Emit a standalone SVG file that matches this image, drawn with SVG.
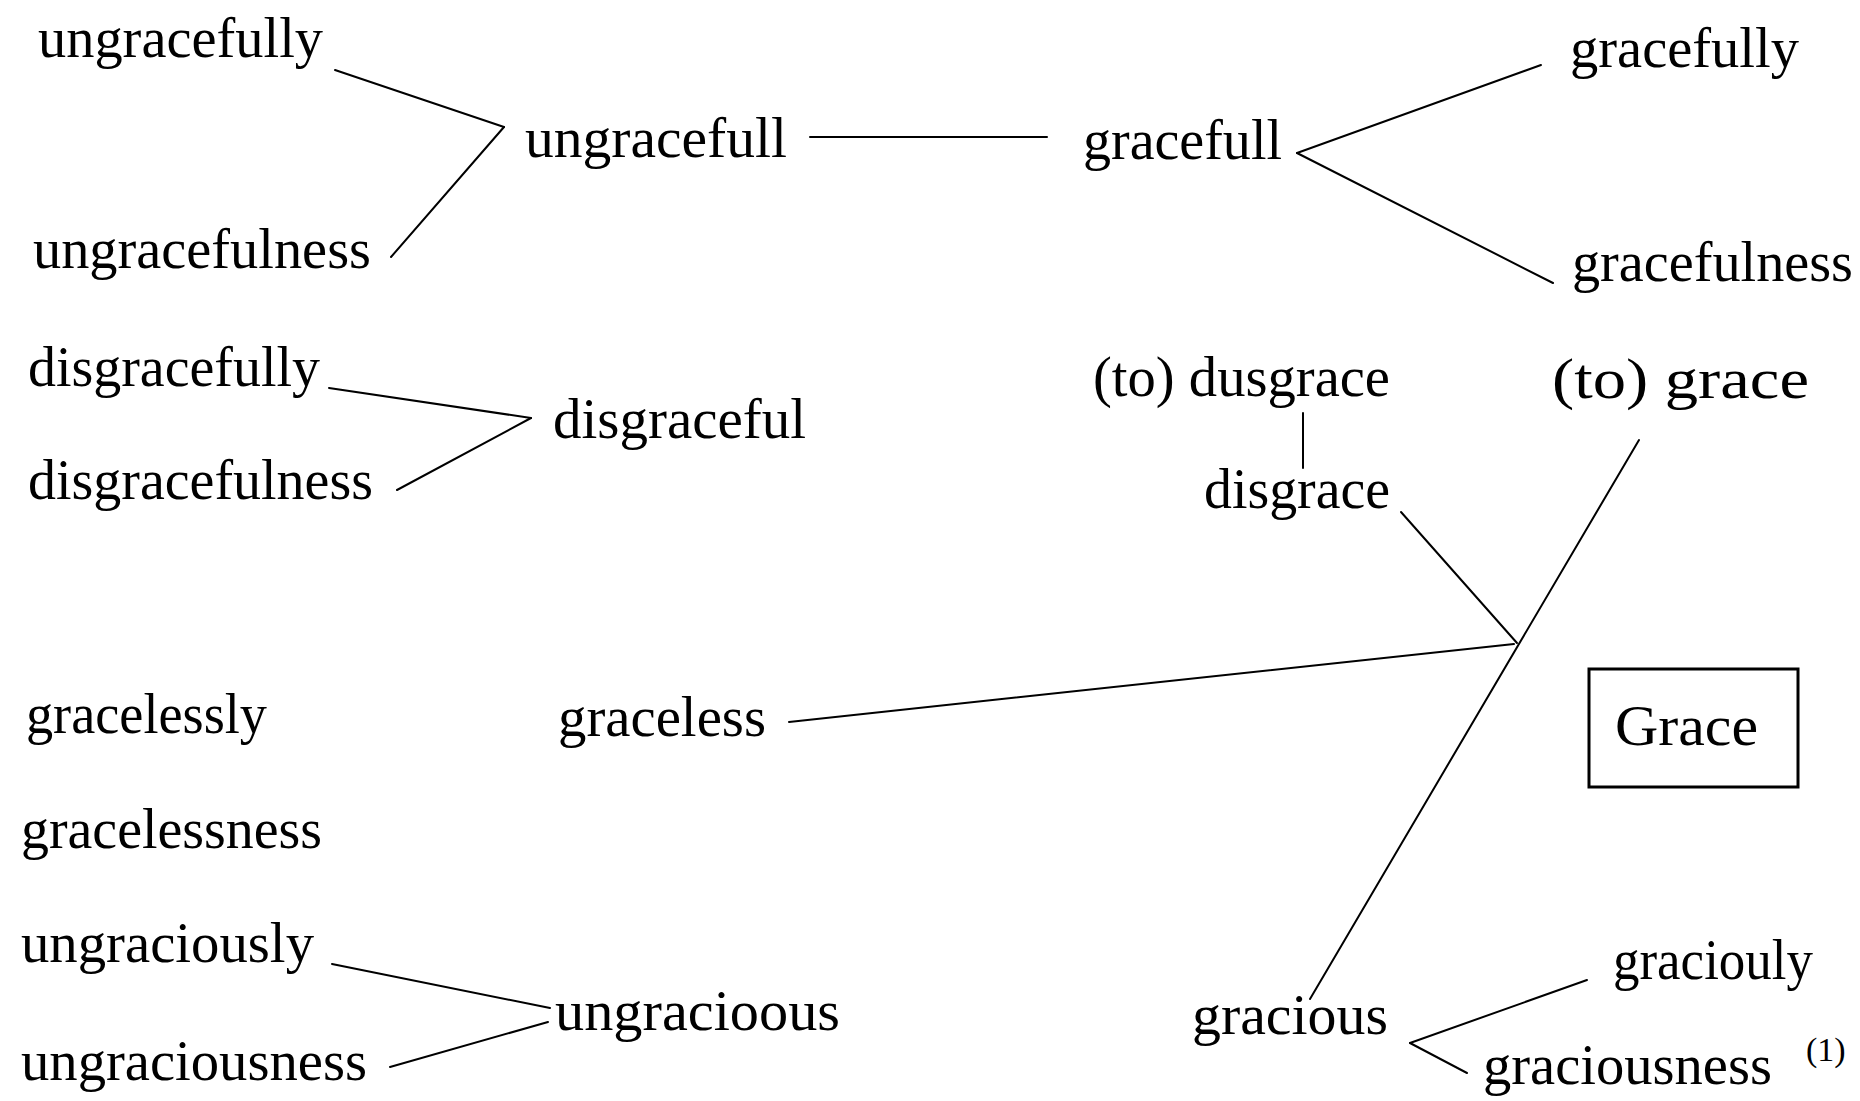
<svg xmlns="http://www.w3.org/2000/svg" width="1860" height="1101" viewBox="0 0 1860 1101">
<style>
text{font-family:"Liberation Serif","Times New Roman",serif;font-size:56px;fill:#000}
.sup{font-size:34px}
.title{font-size:58px}
line{stroke:#000;stroke-width:2;stroke-linecap:round}
.box{fill:none;stroke:#000;stroke-width:3}
</style>
<rect width="1860" height="1101" fill="#fff"/>
<g id="connectors">
<line x1="335" y1="70" x2="504" y2="127"/>
<line x1="504" y1="127" x2="391" y2="257"/>
<line x1="810" y1="137" x2="1047" y2="137"/>
<line x1="1541" y1="65" x2="1297" y2="153"/>
<line x1="1297" y1="153" x2="1553" y2="283"/>
<line x1="329" y1="388" x2="531" y2="418"/>
<line x1="531" y1="418" x2="397" y2="490"/>
<line x1="1303" y1="413" x2="1303" y2="468"/>
<line x1="1401" y1="512" x2="1517" y2="643"/>
<line x1="1639" y1="440" x2="1310" y2="999"/>
<line x1="789" y1="722" x2="1514" y2="644"/>
<line x1="332" y1="964" x2="550" y2="1008"/>
<line x1="390" y1="1067" x2="548" y2="1022"/>
<line x1="1587" y1="980" x2="1410" y2="1043"/>
<line x1="1410" y1="1043" x2="1467" y2="1073"/>
</g>
<g id="ungracefully"><text x="38" y="57" textLength="285" lengthAdjust="spacingAndGlyphs">ungracefully</text></g>
<g id="ungracefull"><text x="525" y="157" textLength="262" lengthAdjust="spacingAndGlyphs">ungracefull</text></g>
<g id="gracefull"><text x="1083" y="159" textLength="199" lengthAdjust="spacingAndGlyphs">gracefull</text></g>
<g id="gracefully"><text x="1570" y="67" textLength="229" lengthAdjust="spacingAndGlyphs">gracefully</text></g>
<g id="ungracefulness"><text x="33" y="268" textLength="338" lengthAdjust="spacingAndGlyphs">ungracefulness</text></g>
<g id="gracefulness"><text x="1572" y="281" textLength="281" lengthAdjust="spacingAndGlyphs">gracefulness</text></g>
<g id="disgracefully"><text x="28" y="386" textLength="292" lengthAdjust="spacingAndGlyphs">disgracefully</text></g>
<g id="disgraceful"><text x="553" y="438" textLength="253" lengthAdjust="spacingAndGlyphs">disgraceful</text></g>
<g id="disgracefulness"><text x="28" y="499" textLength="345" lengthAdjust="spacingAndGlyphs">disgracefulness</text></g>
<g id="to-dusgrace"><text x="1093" y="396" textLength="297" lengthAdjust="spacingAndGlyphs">(to) dusgrace</text></g>
<g id="to-grace"><text x="1552" y="398" textLength="257" lengthAdjust="spacingAndGlyphs">(to) grace</text></g>
<g id="disgrace"><text x="1204" y="508" textLength="186" lengthAdjust="spacingAndGlyphs">disgrace</text></g>
<g id="gracelessly"><text x="26" y="733" textLength="241" lengthAdjust="spacingAndGlyphs">gracelessly</text></g>
<g id="graceless"><text x="558" y="736" textLength="208" lengthAdjust="spacingAndGlyphs">graceless</text></g>
<g id="grace"><rect class="box" x="1589" y="669" width="209" height="118"/><text class="title" x="1615" y="745" textLength="143" lengthAdjust="spacingAndGlyphs">Grace</text></g>
<g id="gracelessness"><text x="21" y="848" textLength="301" lengthAdjust="spacingAndGlyphs">gracelessness</text></g>
<g id="ungraciously"><text x="21" y="962" textLength="293" lengthAdjust="spacingAndGlyphs">ungraciously</text></g>
<g id="ungracioous"><text x="555" y="1030" textLength="285" lengthAdjust="spacingAndGlyphs">ungracioous</text></g>
<g id="ungraciousness"><text x="21" y="1080" textLength="346" lengthAdjust="spacingAndGlyphs">ungraciousness</text></g>
<g id="gracious"><text x="1192" y="1034" textLength="196" lengthAdjust="spacingAndGlyphs">gracious</text></g>
<g id="graciouly"><text x="1613" y="979" textLength="200" lengthAdjust="spacingAndGlyphs">graciouly</text></g>
<g id="graciousness"><text x="1483" y="1084" textLength="289" lengthAdjust="spacingAndGlyphs">graciousness</text><text class="sup" x="1806" y="1061">(1)</text></g>
</svg>
